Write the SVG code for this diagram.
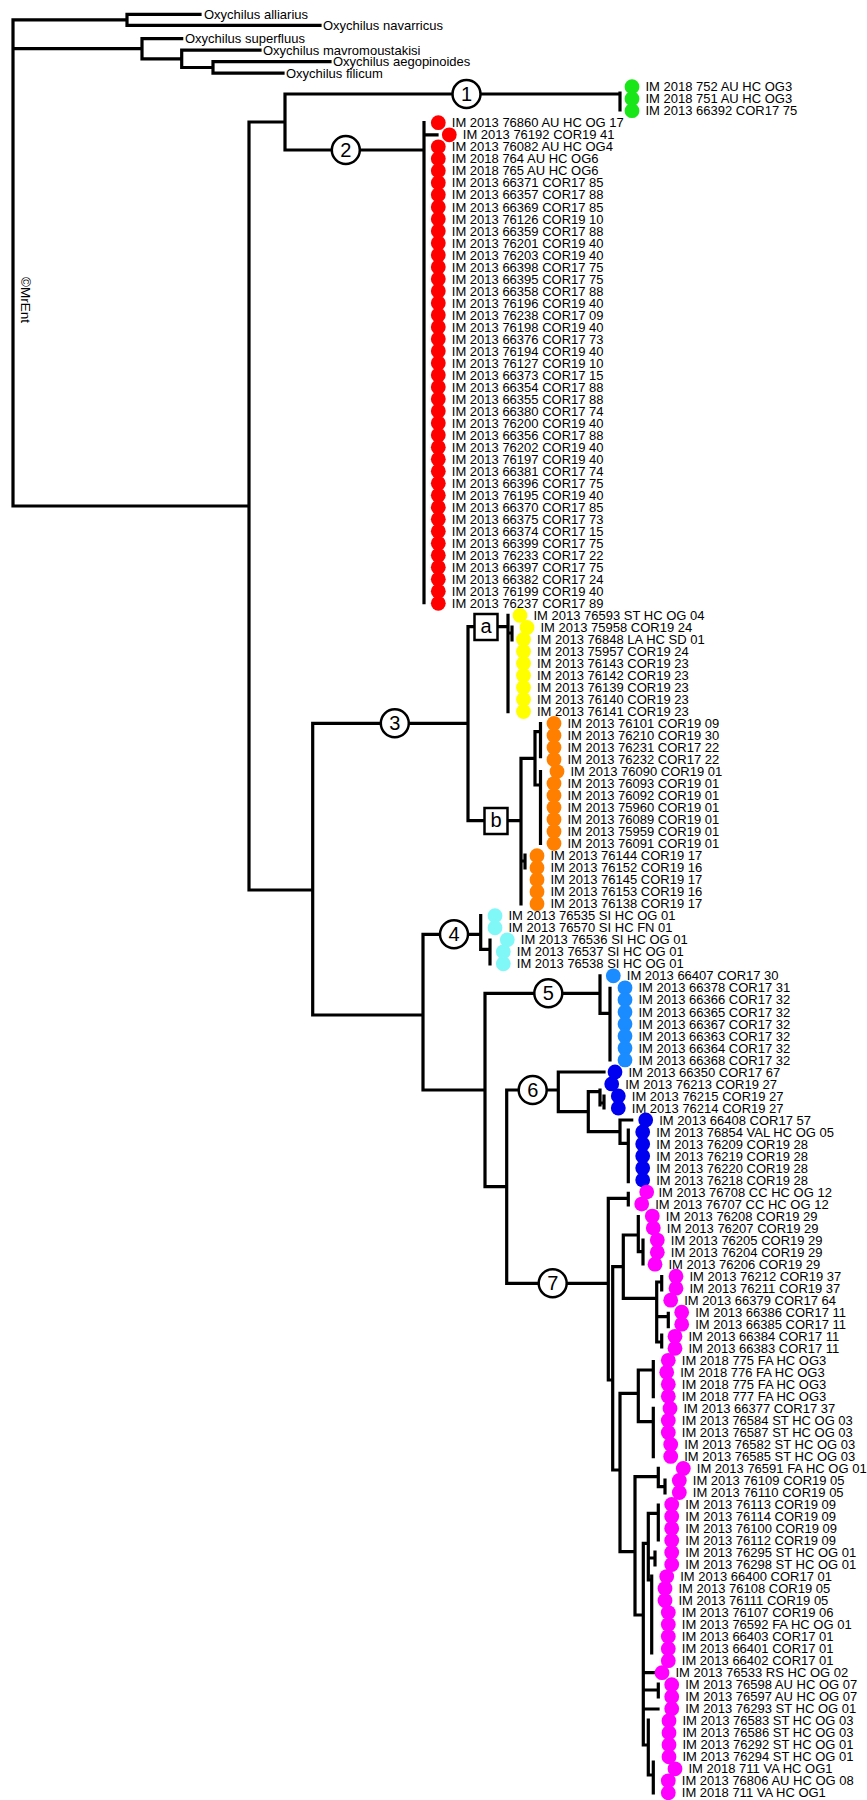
<svg xmlns="http://www.w3.org/2000/svg" width="867" height="1800" viewBox="0 0 867 1800">
<style>
text{font-family:"Liberation Sans",Arial,sans-serif;font-size:13px;fill:#000}
.cn{fill:none;stroke:#000;stroke-width:3.2;stroke-linecap:square;stroke-linejoin:miter}
.gr circle{fill:#19e619}.rd circle{fill:#ff0000}.ye circle{fill:#ffff00}.or circle{fill:#ff8000}
.cy circle{fill:#80f8f8}.lb circle{fill:#1a8cff}.bl circle{fill:#0000f0}.mg circle{fill:#ff00ff}
.tp circle{r:7.4px}
.mk circle,.mk rect{fill:#fff;stroke:#000;stroke-width:2.5}
.mk text{font-size:20px;text-anchor:middle}
</style>
<rect width="867" height="1800" fill="#fff"/>
<g id="connectors" class="cn">
<path d="M13 19.8V506M13 19.8H127M127 14.3V25.3M127 14.3H200M127 25.3H320
M13 48.6H142M142 38.7V58.8M142 38.7H181.7M142 58.8H181.7M181.7 50.2V67.5M181.7 50.2H260M181.7 67.5H213M213 61.7V73.2M213 61.7H330M213 73.2H283
M13 506H249M249 122V890M249 122H285M285 94V150M285 94H620M620 93V110
M285 150H424M424 122.7V602.7M424 134.8H437
M249 890H312.7M312.7 723.3V1015M312.7 723.3H468M468 626.7V820.7
M468 626.7H508M508 615.4V711.7M508 633H512M512 627V640
M468 820.7H521M521 758.3V904M521 861H525M525 855V868
M521 758.3H535M535 731.7V785M535 731.7H540.5M540.5 723.5V756.7M535 785H540.5M540.5 771.7V843.3
M312.7 1015H423M423 934.3V1090M423 934.3H480.7M480.7 915.7V949.3M480.7 949.3H490M490 940V963.8
M423 1090H485M485 993.3V1186.7M485 993.3H600M600 975.8V1013.3M600 1013.3H610M610 988.3V1060
M485 1186.7H506.7M506.7 1090V1283.3
M506.7 1090H558.3M558.3 1072V1111.7M558.3 1072H604M558.3 1111.7H588.3M588.3 1091.7V1131.7M588.3 1091.7H600M600 1090V1105M600 1103H604M604 1096V1108M588.3 1131.7H620M620 1120V1143.3M620 1120H631.7M620 1143.3H628.3M628.3 1130V1181.7
M506.7 1283.3H608.3M608.3 1198.3V1380M608.3 1198.3H628.3M628.3 1193.3V1205
M608.3 1380H612.7M612.7 1266.7V1470M612.7 1266.7H623.3M623.3 1235V1298.3
M623.3 1235H638.3M638.3 1216.7V1251.7M638.3 1251.7H643M643 1240V1264
M623.3 1298.3H656.7M656.7 1282V1342M656.7 1282H661.7M661.7 1276.7V1290M656.7 1316.7H668.3M668.3 1313.3V1326.7M656.7 1342H661.7M661.7 1335V1347
M612.7 1470H620M620 1393.3V1551.7M620 1393.3H638.3M638.3 1370V1421.7M638.3 1370H653.3M653.3 1361.7V1396.7M638.3 1421.7H653.3M653.3 1408.3V1456.7
M620 1551.7H635M635 1476.7V1615M635 1476.7H658.3M658.3 1468.3V1486.7M658.3 1486.7H665M665 1480V1493
M635 1615H643.3M643.3 1543.3V1745M643.3 1543.3H648.3M648.3 1513.3V1580M648.3 1513.3H658.3M658.3 1505V1540M648.3 1558H655M655 1552V1565M648.3 1580H651.7M651.7 1576V1653
M643.3 1672.7H654M643.3 1690H658.3M658.3 1684V1697M643.3 1709H658M643.3 1745H648.3M648.3 1720V1775M648.3 1775H653.3M653.3 1762V1793"/>
</g>
<g id="outgroup">
<text x="204" y="18.9">Oxychilus alliarius</text>
<text x="323" y="29.9">Oxychilus navarricus</text>
<text x="185" y="43.3">Oxychilus superfluus</text>
<text x="263" y="54.8">Oxychilus mavromoustakisi</text>
<text x="333" y="66.3">Oxychilus aegopinoides</text>
<text x="286" y="77.8">Oxychilus filicum</text>
</g>
<text x="20.5" y="277" transform="rotate(90 20.5 277)" style="font-size:13.5px">©MrEnt</text>
<g class="tp">
<g id="t0" class="gr"><circle cx="632" cy="86.7" r="7"/><text x="645.5" y="91.3">IM 2018 752 AU HC OG3</text></g>
<g id="t1" class="gr"><circle cx="632" cy="98.7" r="7"/><text x="645.5" y="103.3">IM 2018 751 AU HC OG3</text></g>
<g id="t2" class="gr"><circle cx="632" cy="110.7" r="7"/><text x="645.5" y="115.3">IM 2013 66392 COR17 75</text></g>
<g id="t3" class="rd"><circle cx="438.3" cy="122.7" r="7"/><text x="451.8" y="127.3">IM 2013 76860 AU HC OG 17</text></g>
<g id="t4" class="rd"><circle cx="449.3" cy="134.8" r="7"/><text x="462.8" y="139.4">IM 2013 76192 COR19 41</text></g>
<g id="t5" class="rd"><circle cx="438.3" cy="146.8" r="7"/><text x="451.8" y="151.4">IM 2013 76082 AU HC OG4</text></g>
<g id="t6" class="rd"><circle cx="438.3" cy="158.8" r="7"/><text x="451.8" y="163.4">IM 2018 764 AU HC OG6</text></g>
<g id="t7" class="rd"><circle cx="438.3" cy="170.8" r="7"/><text x="451.8" y="175.4">IM 2018 765 AU HC OG6</text></g>
<g id="t8" class="rd"><circle cx="438.3" cy="182.8" r="7"/><text x="451.8" y="187.4">IM 2013 66371 COR17 85</text></g>
<g id="t9" class="rd"><circle cx="438.3" cy="194.8" r="7"/><text x="451.8" y="199.4">IM 2013 66357 COR17 88</text></g>
<g id="t10" class="rd"><circle cx="438.3" cy="206.9" r="7"/><text x="451.8" y="211.5">IM 2013 66369 COR17 85</text></g>
<g id="t11" class="rd"><circle cx="438.3" cy="218.9" r="7"/><text x="451.8" y="223.5">IM 2013 76126 COR19 10</text></g>
<g id="t12" class="rd"><circle cx="438.3" cy="230.9" r="7"/><text x="451.8" y="235.5">IM 2013 66359 COR17 88</text></g>
<g id="t13" class="rd"><circle cx="438.3" cy="242.9" r="7"/><text x="451.8" y="247.5">IM 2013 76201 COR19 40</text></g>
<g id="t14" class="rd"><circle cx="438.3" cy="254.9" r="7"/><text x="451.8" y="259.5">IM 2013 76203 COR19 40</text></g>
<g id="t15" class="rd"><circle cx="438.3" cy="266.9" r="7"/><text x="451.8" y="271.5">IM 2013 66398 COR17 75</text></g>
<g id="t16" class="rd"><circle cx="438.3" cy="278.9" r="7"/><text x="451.8" y="283.5">IM 2013 66395 COR17 75</text></g>
<g id="t17" class="rd"><circle cx="438.3" cy="291" r="7"/><text x="451.8" y="295.6">IM 2013 66358 COR17 88</text></g>
<g id="t18" class="rd"><circle cx="438.3" cy="303" r="7"/><text x="451.8" y="307.6">IM 2013 76196 COR19 40</text></g>
<g id="t19" class="rd"><circle cx="438.3" cy="315" r="7"/><text x="451.8" y="319.6">IM 2013 76238 COR17 09</text></g>
<g id="t20" class="rd"><circle cx="438.3" cy="327" r="7"/><text x="451.8" y="331.6">IM 2013 76198 COR19 40</text></g>
<g id="t21" class="rd"><circle cx="438.3" cy="339" r="7"/><text x="451.8" y="343.6">IM 2013 66376 COR17 73</text></g>
<g id="t22" class="rd"><circle cx="438.3" cy="351" r="7"/><text x="451.8" y="355.6">IM 2013 76194 COR19 40</text></g>
<g id="t23" class="rd"><circle cx="438.3" cy="363" r="7"/><text x="451.8" y="367.6">IM 2013 76127 COR19 10</text></g>
<g id="t24" class="rd"><circle cx="438.3" cy="375.1" r="7"/><text x="451.8" y="379.7">IM 2013 66373 COR17 15</text></g>
<g id="t25" class="rd"><circle cx="438.3" cy="387.1" r="7"/><text x="451.8" y="391.7">IM 2013 66354 COR17 88</text></g>
<g id="t26" class="rd"><circle cx="438.3" cy="399.1" r="7"/><text x="451.8" y="403.7">IM 2013 66355 COR17 88</text></g>
<g id="t27" class="rd"><circle cx="438.3" cy="411.1" r="7"/><text x="451.8" y="415.7">IM 2013 66380 COR17 74</text></g>
<g id="t28" class="rd"><circle cx="438.3" cy="423.1" r="7"/><text x="451.8" y="427.7">IM 2013 76200 COR19 40</text></g>
<g id="t29" class="rd"><circle cx="438.3" cy="435.1" r="7"/><text x="451.8" y="439.7">IM 2013 66356 COR17 88</text></g>
<g id="t30" class="rd"><circle cx="438.3" cy="447.2" r="7"/><text x="451.8" y="451.8">IM 2013 76202 COR19 40</text></g>
<g id="t31" class="rd"><circle cx="438.3" cy="459.2" r="7"/><text x="451.8" y="463.8">IM 2013 76197 COR19 40</text></g>
<g id="t32" class="rd"><circle cx="438.3" cy="471.2" r="7"/><text x="451.8" y="475.8">IM 2013 66381 COR17 74</text></g>
<g id="t33" class="rd"><circle cx="438.3" cy="483.2" r="7"/><text x="451.8" y="487.8">IM 2013 66396 COR17 75</text></g>
<g id="t34" class="rd"><circle cx="438.3" cy="495.2" r="7"/><text x="451.8" y="499.8">IM 2013 76195 COR19 40</text></g>
<g id="t35" class="rd"><circle cx="438.3" cy="507.2" r="7"/><text x="451.8" y="511.8">IM 2013 66370 COR17 85</text></g>
<g id="t36" class="rd"><circle cx="438.3" cy="519.2" r="7"/><text x="451.8" y="523.8">IM 2013 66375 COR17 73</text></g>
<g id="t37" class="rd"><circle cx="438.3" cy="531.3" r="7"/><text x="451.8" y="535.9">IM 2013 66374 COR17 15</text></g>
<g id="t38" class="rd"><circle cx="438.3" cy="543.3" r="7"/><text x="451.8" y="547.9">IM 2013 66399 COR17 75</text></g>
<g id="t39" class="rd"><circle cx="438.3" cy="555.3" r="7"/><text x="451.8" y="559.9">IM 2013 76233 COR17 22</text></g>
<g id="t40" class="rd"><circle cx="438.3" cy="567.3" r="7"/><text x="451.8" y="571.9">IM 2013 66397 COR17 75</text></g>
<g id="t41" class="rd"><circle cx="438.3" cy="579.3" r="7"/><text x="451.8" y="583.9">IM 2013 66382 COR17 24</text></g>
<g id="t42" class="rd"><circle cx="438.3" cy="591.3" r="7"/><text x="451.8" y="595.9">IM 2013 76199 COR19 40</text></g>
<g id="t43" class="rd"><circle cx="438.3" cy="603.3" r="7"/><text x="451.8" y="607.9">IM 2013 76237 COR17 89</text></g>
<g id="t44" class="ye"><circle cx="520" cy="615.4" r="7"/><text x="533.5" y="620">IM 2013 76593 ST HC OG 04</text></g>
<g id="t45" class="ye"><circle cx="527" cy="627.4" r="7"/><text x="540.5" y="632">IM 2013 75958 COR19 24</text></g>
<g id="t46" class="ye"><circle cx="523.5" cy="639.4" r="7"/><text x="537" y="644">IM 2013 76848 LA HC SD 01</text></g>
<g id="t47" class="ye"><circle cx="523.5" cy="651.4" r="7"/><text x="537" y="656">IM 2013 75957 COR19 24</text></g>
<g id="t48" class="ye"><circle cx="523.5" cy="663.4" r="7"/><text x="537" y="668">IM 2013 76143 COR19 23</text></g>
<g id="t49" class="ye"><circle cx="523.5" cy="675.4" r="7"/><text x="537" y="680">IM 2013 76142 COR19 23</text></g>
<g id="t50" class="ye"><circle cx="523.5" cy="687.5" r="7"/><text x="537" y="692.1">IM 2013 76139 COR19 23</text></g>
<g id="t51" class="ye"><circle cx="523.5" cy="699.5" r="7"/><text x="537" y="704.1">IM 2013 76140 COR19 23</text></g>
<g id="t52" class="ye"><circle cx="523.5" cy="711.5" r="7"/><text x="537" y="716.1">IM 2013 76141 COR19 23</text></g>
<g id="t53" class="or"><circle cx="554" cy="723.5" r="7"/><text x="567.5" y="728.1">IM 2013 76101 COR19 09</text></g>
<g id="t54" class="or"><circle cx="554" cy="735.5" r="7"/><text x="567.5" y="740.1">IM 2013 76210 COR19 30</text></g>
<g id="t55" class="or"><circle cx="554" cy="747.5" r="7"/><text x="567.5" y="752.1">IM 2013 76231 COR17 22</text></g>
<g id="t56" class="or"><circle cx="554" cy="759.5" r="7"/><text x="567.5" y="764.1">IM 2013 76232 COR17 22</text></g>
<g id="t57" class="or"><circle cx="557" cy="771.6" r="7"/><text x="570.5" y="776.2">IM 2013 76090 COR19 01</text></g>
<g id="t58" class="or"><circle cx="554" cy="783.6" r="7"/><text x="567.5" y="788.2">IM 2013 76093 COR19 01</text></g>
<g id="t59" class="or"><circle cx="554" cy="795.6" r="7"/><text x="567.5" y="800.2">IM 2013 76092 COR19 01</text></g>
<g id="t60" class="or"><circle cx="554" cy="807.6" r="7"/><text x="567.5" y="812.2">IM 2013 75960 COR19 01</text></g>
<g id="t61" class="or"><circle cx="554" cy="819.6" r="7"/><text x="567.5" y="824.2">IM 2013 76089 COR19 01</text></g>
<g id="t62" class="or"><circle cx="554" cy="831.6" r="7"/><text x="567.5" y="836.2">IM 2013 75959 COR19 01</text></g>
<g id="t63" class="or"><circle cx="554" cy="843.6" r="7"/><text x="567.5" y="848.2">IM 2013 76091 COR19 01</text></g>
<g id="t64" class="or"><circle cx="537" cy="855.7" r="7"/><text x="550.5" y="860.3">IM 2013 76144 COR19 17</text></g>
<g id="t65" class="or"><circle cx="537" cy="867.7" r="7"/><text x="550.5" y="872.3">IM 2013 76152 COR19 16</text></g>
<g id="t66" class="or"><circle cx="537" cy="879.7" r="7"/><text x="550.5" y="884.3">IM 2013 76145 COR19 17</text></g>
<g id="t67" class="or"><circle cx="537" cy="891.7" r="7"/><text x="550.5" y="896.3">IM 2013 76153 COR19 16</text></g>
<g id="t68" class="or"><circle cx="537" cy="903.7" r="7"/><text x="550.5" y="908.3">IM 2013 76138 COR19 17</text></g>
<g id="t69" class="cy"><circle cx="495" cy="915.7" r="7"/><text x="508.5" y="920.3">IM 2013 76535 SI HC OG 01</text></g>
<g id="t70" class="cy"><circle cx="495" cy="927.8" r="7"/><text x="508.5" y="932.4">IM 2013 76570 SI HC FN 01</text></g>
<g id="t71" class="cy"><circle cx="507.3" cy="939.8" r="7"/><text x="520.8" y="944.4">IM 2013 76536 SI HC OG 01</text></g>
<g id="t72" class="cy"><circle cx="503.3" cy="951.8" r="7"/><text x="516.8" y="956.4">IM 2013 76537 SI HC OG 01</text></g>
<g id="t73" class="cy"><circle cx="503.3" cy="963.8" r="7"/><text x="516.8" y="968.4">IM 2013 76538 SI HC OG 01</text></g>
<g id="t74" class="lb"><circle cx="613.3" cy="975.8" r="7"/><text x="626.8" y="980.4">IM 2013 66407 COR17 30</text></g>
<g id="t75" class="lb"><circle cx="625" cy="987.8" r="7"/><text x="638.5" y="992.4">IM 2013 66378 COR17 31</text></g>
<g id="t76" class="lb"><circle cx="625" cy="999.8" r="7"/><text x="638.5" y="1004.4">IM 2013 66366 COR17 32</text></g>
<g id="t77" class="lb"><circle cx="625" cy="1011.9" r="7"/><text x="638.5" y="1016.5">IM 2013 66365 COR17 32</text></g>
<g id="t78" class="lb"><circle cx="625" cy="1023.9" r="7"/><text x="638.5" y="1028.5">IM 2013 66367 COR17 32</text></g>
<g id="t79" class="lb"><circle cx="625" cy="1035.9" r="7"/><text x="638.5" y="1040.5">IM 2013 66363 COR17 32</text></g>
<g id="t80" class="lb"><circle cx="625" cy="1047.9" r="7"/><text x="638.5" y="1052.5">IM 2013 66364 COR17 32</text></g>
<g id="t81" class="lb"><circle cx="625" cy="1059.9" r="7"/><text x="638.5" y="1064.5">IM 2013 66368 COR17 32</text></g>
<g id="t82" class="bl"><circle cx="615" cy="1071.9" r="7"/><text x="628.5" y="1076.5">IM 2013 66350 COR17 67</text></g>
<g id="t83" class="bl"><circle cx="611.7" cy="1083.9" r="7"/><text x="625.2" y="1088.5">IM 2013 76213 COR19 27</text></g>
<g id="t84" class="bl"><circle cx="618.3" cy="1096" r="7"/><text x="631.8" y="1100.6">IM 2013 76215 COR19 27</text></g>
<g id="t85" class="bl"><circle cx="618.3" cy="1108" r="7"/><text x="631.8" y="1112.6">IM 2013 76214 COR19 27</text></g>
<g id="t86" class="bl"><circle cx="645.7" cy="1120" r="7"/><text x="659.2" y="1124.6">IM 2013 66408 COR17 57</text></g>
<g id="t87" class="bl"><circle cx="642.7" cy="1132" r="7"/><text x="656.2" y="1136.6">IM 2013 76854 VAL HC OG 05</text></g>
<g id="t88" class="bl"><circle cx="642.7" cy="1144" r="7"/><text x="656.2" y="1148.6">IM 2013 76209 COR19 28</text></g>
<g id="t89" class="bl"><circle cx="642.7" cy="1156" r="7"/><text x="656.2" y="1160.6">IM 2013 76219 COR19 28</text></g>
<g id="t90" class="bl"><circle cx="642.7" cy="1168.1" r="7"/><text x="656.2" y="1172.7">IM 2013 76220 COR19 28</text></g>
<g id="t91" class="bl"><circle cx="642.7" cy="1180.1" r="7"/><text x="656.2" y="1184.7">IM 2013 76218 COR19 28</text></g>
<g id="t92" class="mg"><circle cx="646.7" cy="1192.1" r="7"/><text x="658.5" y="1196.7">IM 2013 76708 CC HC OG 12</text></g>
<g id="t93" class="mg"><circle cx="641.7" cy="1204.1" r="7"/><text x="655.2" y="1208.7">IM 2013 76707 CC HC OG 12</text></g>
<g id="t94" class="mg"><circle cx="652.3" cy="1216.1" r="7"/><text x="665.8" y="1220.7">IM 2013 76208 COR19 29</text></g>
<g id="t95" class="mg"><circle cx="653.3" cy="1228.1" r="7"/><text x="666.8" y="1232.7">IM 2013 76207 COR19 29</text></g>
<g id="t96" class="mg"><circle cx="657.3" cy="1240.1" r="7"/><text x="670.8" y="1244.7">IM 2013 76205 COR19 29</text></g>
<g id="t97" class="mg"><circle cx="657.3" cy="1252.2" r="7"/><text x="670.8" y="1256.8">IM 2013 76204 COR19 29</text></g>
<g id="t98" class="mg"><circle cx="655" cy="1264.2" r="7"/><text x="668.5" y="1268.8">IM 2013 76206 COR19 29</text></g>
<g id="t99" class="mg"><circle cx="676" cy="1276.2" r="7"/><text x="689.5" y="1280.8">IM 2013 76212 COR19 37</text></g>
<g id="t100" class="mg"><circle cx="676" cy="1288.2" r="7"/><text x="689.5" y="1292.8">IM 2013 76211 COR19 37</text></g>
<g id="t101" class="mg"><circle cx="670.7" cy="1300.2" r="7"/><text x="684.2" y="1304.8">IM 2013 66379 COR17 64</text></g>
<g id="t102" class="mg"><circle cx="681.7" cy="1312.2" r="7"/><text x="695.2" y="1316.8">IM 2013 66386 COR17 11</text></g>
<g id="t103" class="mg"><circle cx="681.7" cy="1324.2" r="7"/><text x="695.2" y="1328.8">IM 2013 66385 COR17 11</text></g>
<g id="t104" class="mg"><circle cx="675" cy="1336.3" r="7"/><text x="688.5" y="1340.9">IM 2013 66384 COR17 11</text></g>
<g id="t105" class="mg"><circle cx="675" cy="1348.3" r="7"/><text x="688.5" y="1352.9">IM 2013 66383 COR17 11</text></g>
<g id="t106" class="mg"><circle cx="668.3" cy="1360.3" r="7"/><text x="681.8" y="1364.9">IM 2018 775 FA HC OG3</text></g>
<g id="t107" class="mg"><circle cx="666.7" cy="1372.3" r="7"/><text x="680.2" y="1376.9">IM 2018 776 FA HC OG3</text></g>
<g id="t108" class="mg"><circle cx="668.3" cy="1384.3" r="7"/><text x="681.8" y="1388.9">IM 2018 775 FA HC OG3</text></g>
<g id="t109" class="mg"><circle cx="668.3" cy="1396.3" r="7"/><text x="681.8" y="1400.9">IM 2018 777 FA HC OG3</text></g>
<g id="t110" class="mg"><circle cx="670" cy="1408.4" r="7"/><text x="683.5" y="1413">IM 2013 66377 COR17 37</text></g>
<g id="t111" class="mg"><circle cx="668.3" cy="1420.4" r="7"/><text x="681.8" y="1425">IM 2013 76584 ST HC OG 03</text></g>
<g id="t112" class="mg"><circle cx="668.3" cy="1432.4" r="7"/><text x="681.8" y="1437">IM 2013 76587 ST HC OG 03</text></g>
<g id="t113" class="mg"><circle cx="670.7" cy="1444.4" r="7"/><text x="684.2" y="1449">IM 2013 76582 ST HC OG 03</text></g>
<g id="t114" class="mg"><circle cx="670.7" cy="1456.4" r="7"/><text x="684.2" y="1461">IM 2013 76585 ST HC OG 03</text></g>
<g id="t115" class="mg"><circle cx="683.3" cy="1468.4" r="7"/><text x="696.8" y="1473">IM 2013 76591 FA HC OG 01</text></g>
<g id="t116" class="mg"><circle cx="679.3" cy="1480.4" r="7"/><text x="692.8" y="1485">IM 2013 76109 COR19 05</text></g>
<g id="t117" class="mg"><circle cx="679.3" cy="1492.5" r="7"/><text x="692.8" y="1497.1">IM 2013 76110 COR19 05</text></g>
<g id="t118" class="mg"><circle cx="671.7" cy="1504.5" r="7"/><text x="685.2" y="1509.1">IM 2013 76113 COR19 09</text></g>
<g id="t119" class="mg"><circle cx="671.7" cy="1516.5" r="7"/><text x="685.2" y="1521.1">IM 2013 76114 COR19 09</text></g>
<g id="t120" class="mg"><circle cx="671.7" cy="1528.5" r="7"/><text x="685.2" y="1533.1">IM 2013 76100 COR19 09</text></g>
<g id="t121" class="mg"><circle cx="671.7" cy="1540.5" r="7"/><text x="685.2" y="1545.1">IM 2013 76112 COR19 09</text></g>
<g id="t122" class="mg"><circle cx="671.7" cy="1552.5" r="7"/><text x="685.2" y="1557.1">IM 2013 76295 ST HC OG 01</text></g>
<g id="t123" class="mg"><circle cx="671.7" cy="1564.5" r="7"/><text x="685.2" y="1569.1">IM 2013 76298 ST HC OG 01</text></g>
<g id="t124" class="mg"><circle cx="666.7" cy="1576.6" r="7"/><text x="680.2" y="1581.2">IM 2013 66400 COR17 01</text></g>
<g id="t125" class="mg"><circle cx="665" cy="1588.6" r="7"/><text x="678.5" y="1593.2">IM 2013 76108 COR19 05</text></g>
<g id="t126" class="mg"><circle cx="665" cy="1600.6" r="7"/><text x="678.5" y="1605.2">IM 2013 76111 COR19 05</text></g>
<g id="t127" class="mg"><circle cx="668.3" cy="1612.6" r="7"/><text x="681.8" y="1617.2">IM 2013 76107 COR19 06</text></g>
<g id="t128" class="mg"><circle cx="668.3" cy="1624.6" r="7"/><text x="681.8" y="1629.2">IM 2013 76592 FA HC OG 01</text></g>
<g id="t129" class="mg"><circle cx="668.3" cy="1636.6" r="7"/><text x="681.8" y="1641.2">IM 2013 66403 COR17 01</text></g>
<g id="t130" class="mg"><circle cx="668.3" cy="1648.7" r="7"/><text x="681.8" y="1653.3">IM 2013 66401 COR17 01</text></g>
<g id="t131" class="mg"><circle cx="668.3" cy="1660.7" r="7"/><text x="681.8" y="1665.3">IM 2013 66402 COR17 01</text></g>
<g id="t132" class="mg"><circle cx="662" cy="1672.7" r="7"/><text x="675.5" y="1677.3">IM 2013 76533 RS HC OG 02</text></g>
<g id="t133" class="mg"><circle cx="671.7" cy="1684.7" r="7"/><text x="685.2" y="1689.3">IM 2013 76598 AU HC OG 07</text></g>
<g id="t134" class="mg"><circle cx="671.7" cy="1696.7" r="7"/><text x="685.2" y="1701.3">IM 2013 76597 AU HC OG 07</text></g>
<g id="t135" class="mg"><circle cx="671.7" cy="1708.7" r="7"/><text x="685.2" y="1713.3">IM 2013 76293 ST HC OG 01</text></g>
<g id="t136" class="mg"><circle cx="669" cy="1720.7" r="7"/><text x="682.5" y="1725.3">IM 2013 76583 ST HC OG 03</text></g>
<g id="t137" class="mg"><circle cx="669" cy="1732.8" r="7"/><text x="682.5" y="1737.4">IM 2013 76586 ST HC OG 03</text></g>
<g id="t138" class="mg"><circle cx="669" cy="1744.8" r="7"/><text x="682.5" y="1749.4">IM 2013 76292 ST HC OG 01</text></g>
<g id="t139" class="mg"><circle cx="669" cy="1756.8" r="7"/><text x="682.5" y="1761.4">IM 2013 76294 ST HC OG 01</text></g>
<g id="t140" class="mg"><circle cx="675" cy="1768.8" r="7"/><text x="688.5" y="1773.4">IM 2018 711 VA HC OG1</text></g>
<g id="t141" class="mg"><circle cx="668.3" cy="1780.8" r="7"/><text x="681.8" y="1785.4">IM 2013 76806 AU HC OG 08</text></g>
<g id="t142" class="mg"><circle cx="668.3" cy="1792.8" r="7"/><text x="681.8" y="1797.4">IM 2018 711 VA HC OG1</text></g>
</g>
<g id="m1" class="mk"><circle cx="466.5" cy="94" r="14"/><text x="466.5" y="101">1</text></g>
<g id="m2" class="mk"><circle cx="345.8" cy="150" r="14"/><text x="345.8" y="157">2</text></g>
<g id="m3" class="mk"><circle cx="394.8" cy="723.3" r="14"/><text x="394.8" y="730.3">3</text></g>
<g id="m4" class="mk"><circle cx="454" cy="934.3" r="14"/><text x="454" y="941.3">4</text></g>
<g id="m5" class="mk"><circle cx="548.3" cy="993.3" r="14"/><text x="548.3" y="1000.3">5</text></g>
<g id="m6" class="mk"><circle cx="532.7" cy="1090" r="14"/><text x="532.7" y="1097">6</text></g>
<g id="m7" class="mk"><circle cx="552.7" cy="1283.3" r="14"/><text x="552.7" y="1290.3">7</text></g>
<g id="ma" class="mk"><rect x="474.5" y="614" width="23" height="26"/><text x="486" y="633">a</text></g>
<g id="mb" class="mk"><rect x="484.5" y="808" width="23" height="26"/><text x="496" y="827">b</text></g>
</svg>
